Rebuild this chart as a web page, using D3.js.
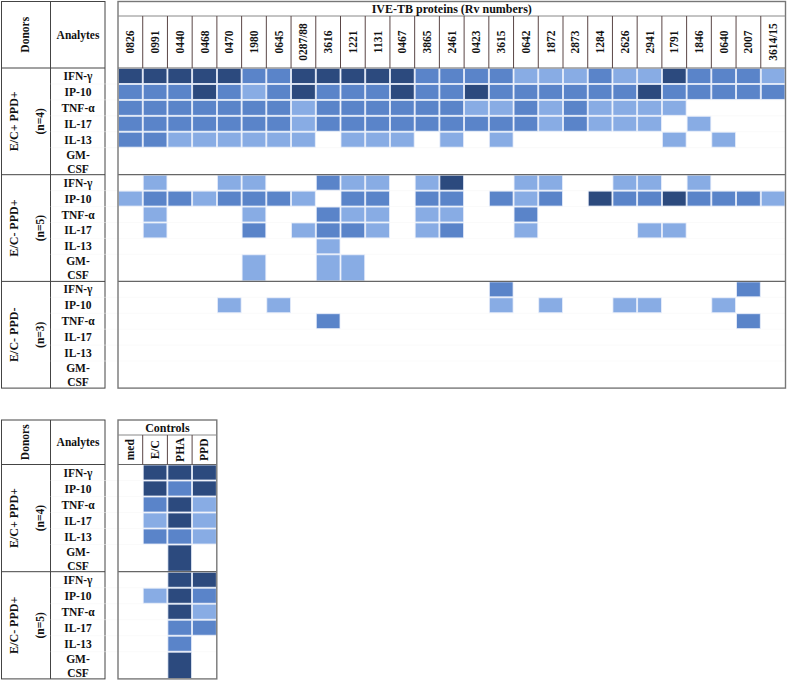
<!DOCTYPE html>
<html>
<head>
<meta charset="utf-8">
<script src="https://cdn.jsdelivr.net/npm/d3@7/dist/d3.min.js"></script>
<style>
  body { margin: 0; background: #fff; }
  text { font-family: "Liberation Serif", "Times New Roman", serif; font-weight: bold; fill: #111; }
</style>
</head>
<body>
<div id="chart"></div>
<script>
// ---- data ----
const proteins = ["0826","0991","0440","0468","0470","1980","0645","0287/88","3616","1221","1131","0467",
  "3865","2461","0423","3615","0642","1872","2873","1284","2626","2941","1791","1846","0640","2007","3614/15"];
const analytes = ["IFN-γ","IP-10","TNF-α","IL-17","IL-13","GM-CSF"];
const mainGroups = ["E/C+ PPD+","E/C- PPD+","E/C- PPD-"];
const mainN = ["(n=4)","(n=5)","(n=3)"];
const controlCols = ["med","E/C","PHA","PPD"];
const controlGroups = ["E/C+ PPD+","E/C- PPD+"];
const controlN = ["(n=4)","(n=5)"];

// response level per analyte row: 0 none, 1 low, 2 medium, 3 high
const ecPosPpdPos = [
  [3,3,3,3,3,2,2,3,3,3,3,3,2,2,2,2,1,1,1,2,1,1,3,2,2,2,1],
  [2,2,2,3,2,1,2,3,2,2,2,3,2,2,3,2,2,2,2,2,2,3,2,2,2,2,2],
  [2,2,2,2,2,2,2,1,2,2,2,2,2,2,1,1,2,1,2,1,1,1,1,0,0,0,0],
  [2,2,2,2,2,2,2,1,2,2,2,2,2,2,2,2,2,1,2,1,1,1,0,1,0,0,0],
  [2,2,1,1,1,1,1,1,0,1,1,1,0,1,0,1,0,0,0,0,0,0,1,0,1,0,0],
  [0,0,0,0,0,0,0,0,0,0,0,0,0,0,0,0,0,0,0,0,0,0,0,0,0,0,0]
];
const ecNegPpdPos = [
  [0,1,0,0,1,1,0,0,2,1,1,0,1,3,0,0,1,1,0,0,1,1,0,1,0,0,0],
  [1,2,2,1,2,2,2,1,0,2,2,0,2,2,0,2,1,2,0,3,2,2,3,2,2,2,1],
  [0,1,0,0,0,1,0,0,2,1,1,0,1,1,0,0,2,0,0,0,0,0,0,0,0,0,0],
  [0,1,0,0,0,2,0,1,2,2,1,0,1,2,0,0,1,0,0,0,0,1,1,0,0,0,0],
  [0,0,0,0,0,0,0,0,1,0,0,0,0,0,0,0,0,0,0,0,0,0,0,0,0,0,0],
  [0,0,0,0,0,1,0,0,1,1,0,0,0,0,0,0,0,0,0,0,0,0,0,0,0,0,0]
];
const ecNegPpdNeg = [
  [0,0,0,0,0,0,0,0,0,0,0,0,0,0,0,2,0,0,0,0,0,0,0,0,0,2,0],
  [0,0,0,0,1,0,1,0,0,0,0,0,0,0,0,1,0,1,0,0,1,1,0,0,1,0,0],
  [0,0,0,0,0,0,0,0,2,0,0,0,0,0,0,0,0,0,0,0,0,0,0,0,0,2,0],
  [0,0,0,0,0,0,0,0,0,0,0,0,0,0,0,0,0,0,0,0,0,0,0,0,0,0,0],
  [0,0,0,0,0,0,0,0,0,0,0,0,0,0,0,0,0,0,0,0,0,0,0,0,0,0,0],
  [0,0,0,0,0,0,0,0,0,0,0,0,0,0,0,0,0,0,0,0,0,0,0,0,0,0,0]
];
const ctrlEcPos = [[0,3,3,3],[0,3,2,3],[0,2,3,1],[0,1,3,1],[0,2,2,1],[0,0,3,0]];
const ctrlEcNeg = [[0,0,3,3],[0,1,3,2],[0,0,3,1],[0,0,2,2],[0,0,2,0],[0,0,3,0]];

const rowUnits = [1,1,1,1,1,1.7]; // GM-CSF row holds two text lines

// ---- drawing ----
const W = 787, H = 681;
const svg = d3.select("#chart").append("svg").attr("width", W).attr("height", H);

const color = d3.scaleOrdinal().domain([1,2,3]).range(["#88ace4","#5a84c9","#2c4a7e"]);
const rowStarts = [0].concat(Array.from(d3.cumsum(rowUnits)));

function drawBlock(opt) {
  const g = svg.append("g");
  const x = d3.scaleBand().domain(opt.cols).range([opt.x0, opt.x1]);
  const yUnit = d3.scaleLinear().domain([0, rowStarts[rowStarts.length-1]]).range([0, opt.groupH]);
  const bottom = opt.headBottom + opt.groupH * opt.groups.length;

  // left table
  g.append("rect").attr("x", 1.5).attr("y", opt.top).attr("width", 103.5).attr("height", bottom - opt.top)
    .attr("fill", "none").attr("stroke", "#444").attr("stroke-width", 1);
  g.append("line").attr("x1", 50.5).attr("x2", 50.5).attr("y1", opt.top).attr("y2", bottom)
    .attr("stroke", "#444");
  g.append("text").attr("transform", `translate(29,${(opt.top + opt.headBottom)/2}) rotate(-90)`)
    .attr("text-anchor", "middle").attr("font-size", 11.5).text("Donors");
  g.append("text").attr("x", 78).attr("y", (opt.top + opt.headBottom)/2 + 4)
    .attr("text-anchor", "middle").attr("font-size", 11.5).text("Analytes");

  opt.groups.forEach((grp, gi) => {
    const gy = opt.headBottom + gi * opt.groupH;
    // faint row lines
    g.selectAll(null).data(rowStarts.slice(1, -1)).enter().append("line")
      .attr("x1", 50.5).attr("x2", opt.x1).attr("y1", d => gy + yUnit(d)).attr("y2", d => gy + yUnit(d))
      .attr("stroke", "#f5f5f5").attr("stroke-width", 0.5);
    // cells
    const cells = [];
    opt.matrices[gi].forEach((row, ri) => row.forEach((v, ci) => { if (v > 0) cells.push({ri, ci, v}); }));
    g.selectAll(null).data(cells).enter().append("rect")
      .attr("x", d => x(opt.cols[d.ci]) + 0.5)
      .attr("y", d => gy + yUnit(rowStarts[d.ri]) + 0.5)
      .attr("width", x.bandwidth() - 1)
      .attr("height", d => yUnit(rowUnits[d.ri]) - 1)
      .attr("fill", d => color(d.v))
      .attr("stroke", "#e8eefa").attr("stroke-width", 0.8);
    // separators
    g.append("line").attr("x1", 1.5).attr("x2", 105).attr("y1", gy).attr("y2", gy).attr("stroke", "#444");
    g.append("line").attr("x1", opt.x0).attr("x2", opt.x1).attr("y1", gy).attr("y2", gy)
      .attr("stroke", "#666").attr("stroke-width", 1.2);
    // group labels
    const cy = gy + opt.groupH/2;
    g.append("text").attr("transform", `translate(18,${cy}) rotate(-90)`)
      .attr("text-anchor", "middle").attr("font-size", 12).text(grp);
    g.append("text").attr("transform", `translate(44,${cy}) rotate(-90)`)
      .attr("text-anchor", "middle").attr("font-size", 11.5).text(opt.nLabels[gi]);
    // analyte labels
    analytes.forEach((a, ri) => {
      const y0 = gy + yUnit(rowStarts[ri]), y1 = gy + yUnit(rowStarts[ri+1]);
      if (a === "GM-CSF") {
        g.append("text").attr("x", 78).attr("y", y0 + 11).attr("text-anchor", "middle").attr("font-size", 11.5).text("GM-");
        g.append("text").attr("x", 78).attr("y", y1 - 2).attr("text-anchor", "middle").attr("font-size", 11.5).text("CSF");
      } else {
        g.append("text").attr("x", 78).attr("y", (y0 + y1)/2 + 4).attr("text-anchor", "middle").attr("font-size", 11.5).text(a);
      }
    });
  });

  // panel outline + header
  g.append("rect").attr("x", opt.x0).attr("y", opt.top).attr("width", opt.x1 - opt.x0).attr("height", bottom - opt.top)
    .attr("fill", "none").attr("stroke", "#777").attr("stroke-width", 1.4);
  g.append("line").attr("x1", opt.x0).attr("x2", opt.x1).attr("y1", opt.titleBottom).attr("y2", opt.titleBottom)
    .attr("stroke", "#888");
  g.append("text").attr("x", (opt.x0 + opt.x1)/2).attr("y", (opt.top + opt.titleBottom)/2 + 4)
    .attr("text-anchor", "middle").attr("font-size", 12).text(opt.title);
  g.selectAll(".colsep").data(opt.cols.slice(1)).enter().append("line")
    .attr("x1", d => x(d)).attr("x2", d => x(d))
    .attr("y1", opt.titleBottom).attr("y2", opt.headBottom)
    .attr("stroke", "#5a4646").attr("stroke-width", 1);
  g.selectAll(".collab").data(opt.cols).enter().append("text")
    .attr("transform", d => `translate(${x(d) + x.bandwidth()/2 + 4},${(opt.titleBottom + opt.headBottom)/2}) rotate(-90)`)
    .attr("text-anchor", "middle").attr("font-size", 11.5).text(d => d);
}

drawBlock({
  cols: proteins, groups: mainGroups, nLabels: mainN,
  matrices: [ecPosPpdPos, ecNegPpdPos, ecNegPpdNeg],
  top: 1.5, titleBottom: 16, headBottom: 68, groupH: 106.7,
  x0: 118, x1: 785.5, title: "IVE-TB proteins (Rv numbers)"
});

drawBlock({
  cols: controlCols, groups: controlGroups, nLabels: controlN,
  matrices: [ctrlEcPos, ctrlEcNeg],
  top: 420, titleBottom: 435, headBottom: 464.5, groupH: 107.2,
  x0: 118, x1: 216.8, title: "Controls"
});
</script>
</body>
</html>
